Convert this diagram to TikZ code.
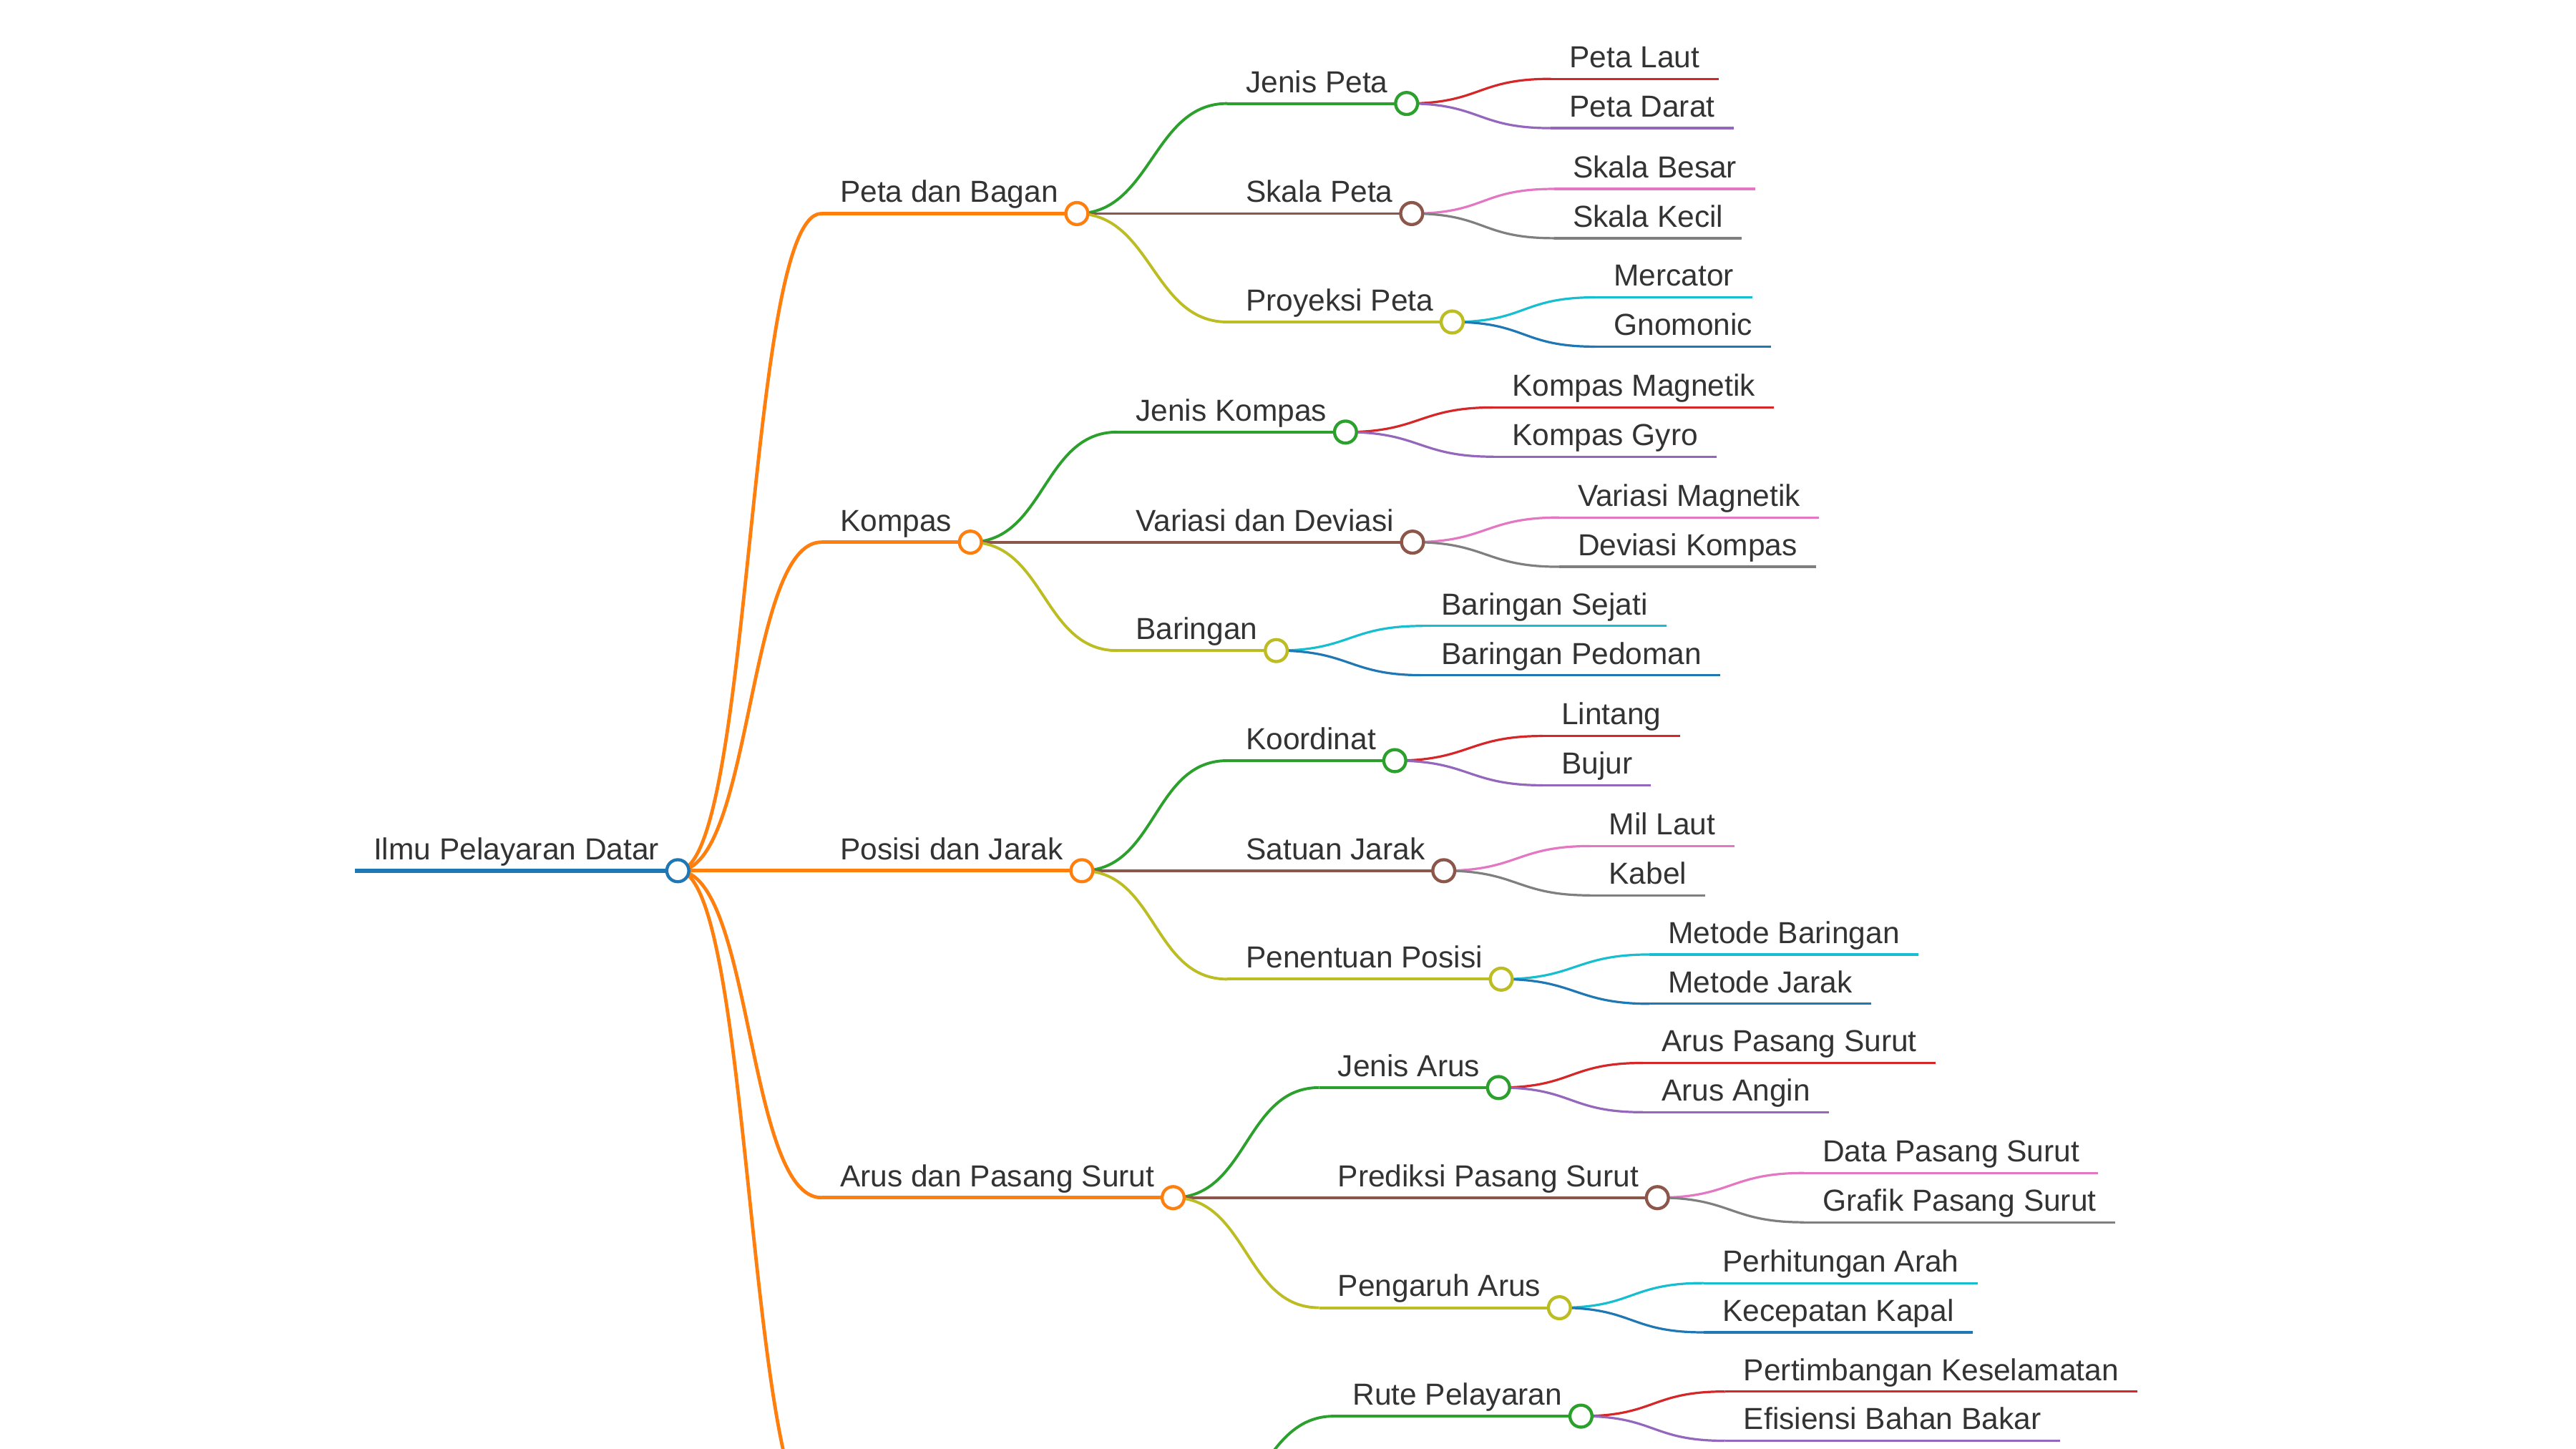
\documentclass[tikz,border=0pt]{standalone}
\usepackage{fontspec}
\setmainfont{Liberation Sans}
\usepackage{xcolor}
\usepackage{tikz}
\definecolor{mmblue}{HTML}{1F77B4}
\definecolor{mmorange}{HTML}{FF7F0E}
\definecolor{mmgreen}{HTML}{2CA02C}
\definecolor{mmred}{HTML}{D62728}
\definecolor{mmpurple}{HTML}{9467BD}
\definecolor{mmbrown}{HTML}{8C564B}
\definecolor{mmpink}{HTML}{E377C2}
\definecolor{mmgray}{HTML}{7F7F7F}
\definecolor{mmolive}{HTML}{BCBD22}
\definecolor{mmcyan}{HTML}{17BECF}
\definecolor{mmtext}{HTML}{333333}

\begin{document}
\begin{tikzpicture}[x=0.5pt,y=-0.5pt,
    lbl/.style={anchor=south west,inner xsep=5.5pt,inner ysep=3.2pt,text depth=0pt,text=mmtext,font=\fontsize{9.25pt}{11pt}\selectfont},
    l0/.style={line width=1.4pt},
    l1/.style={line width=1.05pt},
    l2/.style={line width=0.85pt},
    l3/.style={line width=0.7pt},
    knob/.style={line width=0.95pt,fill=white}]
            \useasboundingbox (0,0) rectangle (1568,882);
            \clip (0,0) rectangle (1568,882);
            \node[lbl] (root) at (216,530) {Ilmu Pelayaran Datar};
            \node[lbl] (pb) at (500,130) {Peta dan Bagan};
            \node[lbl] (ko) at (500,330) {Kompas};
            \node[lbl] (pj) at (500,530) {Posisi dan Jarak};
            \node[lbl] (ap) at (500,729) {Arus dan Pasang Surut};
            \coordinate (rl) at (500,929);
            \coordinate (rr) at (721,929);
            \node[lbl] (jp) at (747,63) {Jenis Peta};
            \node[lbl] (sp) at (747,130) {Skala Peta};
            \node[lbl] (pp) at (747,196) {Proyeksi Peta};
            \node[lbl] (jk) at (680,263) {Jenis Kompas};
            \node[lbl] (vd) at (680,330) {Variasi dan Deviasi};
            \node[lbl] (bg) at (680,396) {Baringan};
            \node[lbl] (kd) at (747,463) {Koordinat};
            \node[lbl] (sj) at (747,530) {Satuan Jarak};
            \node[lbl] (ps) at (747,596) {Penentuan Posisi};
            \node[lbl] (ja) at (803,662) {Jenis Arus};
            \node[lbl] (pr) at (803,729) {Prediksi Pasang Surut};
            \node[lbl] (pa) at (803,796) {Pengaruh Arus};
            \node[lbl] (ru) at (812,862) {Rute Pelayaran};
            \node[lbl] (jp1) at (944,48) {Peta Laut};
            \node[lbl] (jp2) at (944,78) {Peta Darat};
            \node[lbl] (sp1) at (946,115) {Skala Besar};
            \node[lbl] (sp2) at (946,145) {Skala Kecil};
            \node[lbl] (pp1) at (971,181) {Mercator};
            \node[lbl] (pp2) at (971,211) {Gnomonic};
            \node[lbl] (jk1) at (909,248) {Kompas Magnetik};
            \node[lbl] (jk2) at (909,278) {Kompas Gyro};
            \node[lbl] (vd1) at (949,315) {Variasi Magnetik};
            \node[lbl] (vd2) at (949,345) {Deviasi Kompas};
            \node[lbl] (bg1) at (866,381) {Baringan Sejati};
            \node[lbl] (bg2) at (866,411) {Baringan Pedoman};
            \node[lbl] (kd1) at (939,448) {Lintang};
            \node[lbl] (kd2) at (939,478) {Bujur};
            \node[lbl] (sj1) at (968,515) {Mil Laut};
            \node[lbl] (sj2) at (968,545) {Kabel};
            \node[lbl] (ps1) at (1004,581) {Metode Baringan};
            \node[lbl] (ps2) at (1004,611) {Metode Jarak};
            \node[lbl] (ja1) at (1000,647) {Arus Pasang Surut};
            \node[lbl] (ja2) at (1000,677) {Arus Angin};
            \node[lbl] (pr1) at (1098,714) {Data Pasang Surut};
            \node[lbl] (pr2) at (1098,744) {Grafik Pasang Surut};
            \node[lbl] (pa1) at (1037,781) {Perhitungan Arah};
            \node[lbl] (pa2) at (1037,811) {Kecepatan Kapal};
            \node[lbl] (ru1) at (1050,847) {Pertimbangan Keselamatan};
            \node[lbl] (ru2) at (1050,877) {Efisiensi Bahan Bakar};
            \draw[mmorange,l1] (root.south east) .. controls +(45.5,0) and +(-45.5,0) .. (pb.south west);
            \draw[mmorange,l1] (root.south east) .. controls +(45.5,0) and +(-45.5,0) .. (ko.south west);
            \draw[mmorange,l1] (root.south east) .. controls +(45.5,0) and +(-45.5,0) .. (pj.south west);
            \draw[mmorange,l1] (root.south east) .. controls +(45.5,0) and +(-45.5,0) .. (ap.south west);
            \draw[mmorange,l1] (root.south east) .. controls +(45.5,0) and +(-45.5,0) .. (rl);
            \draw[mmgreen,l2] (pb.south east) .. controls +(45.5,0) and +(-45.5,0) .. (jp.south west);
            \draw[mmbrown,l2] (pb.south east) .. controls +(45.5,0) and +(-45.5,0) .. (sp.south west);
            \draw[mmolive,l2] (pb.south east) .. controls +(45.5,0) and +(-45.5,0) .. (pp.south west);
            \draw[mmgreen,l2] (ko.south east) .. controls +(45.5,0) and +(-45.5,0) .. (jk.south west);
            \draw[mmbrown,l2] (ko.south east) .. controls +(45.5,0) and +(-45.5,0) .. (vd.south west);
            \draw[mmolive,l2] (ko.south east) .. controls +(45.5,0) and +(-45.5,0) .. (bg.south west);
            \draw[mmgreen,l2] (pj.south east) .. controls +(45.5,0) and +(-45.5,0) .. (kd.south west);
            \draw[mmbrown,l2] (pj.south east) .. controls +(45.5,0) and +(-45.5,0) .. (sj.south west);
            \draw[mmolive,l2] (pj.south east) .. controls +(45.5,0) and +(-45.5,0) .. (ps.south west);
            \draw[mmgreen,l2] (ap.south east) .. controls +(45.5,0) and +(-45.5,0) .. (ja.south west);
            \draw[mmbrown,l2] (ap.south east) .. controls +(45.5,0) and +(-45.5,0) .. (pr.south west);
            \draw[mmolive,l2] (ap.south east) .. controls +(45.5,0) and +(-45.5,0) .. (pa.south west);
            \draw[mmgreen,l2] (rr) .. controls +(45.5,0) and +(-45.5,0) .. (ru.south west);
            \draw[mmred,l3] (jp.south east) .. controls +(45.5,0) and +(-45.5,0) .. (jp1.south west);
            \draw[mmpurple,l3] (jp.south east) .. controls +(45.5,0) and +(-45.5,0) .. (jp2.south west);
            \draw[mmpink,l3] (sp.south east) .. controls +(45.5,0) and +(-45.5,0) .. (sp1.south west);
            \draw[mmgray,l3] (sp.south east) .. controls +(45.5,0) and +(-45.5,0) .. (sp2.south west);
            \draw[mmcyan,l3] (pp.south east) .. controls +(45.5,0) and +(-45.5,0) .. (pp1.south west);
            \draw[mmblue,l3] (pp.south east) .. controls +(45.5,0) and +(-45.5,0) .. (pp2.south west);
            \draw[mmred,l3] (jk.south east) .. controls +(45.5,0) and +(-45.5,0) .. (jk1.south west);
            \draw[mmpurple,l3] (jk.south east) .. controls +(45.5,0) and +(-45.5,0) .. (jk2.south west);
            \draw[mmpink,l3] (vd.south east) .. controls +(45.5,0) and +(-45.5,0) .. (vd1.south west);
            \draw[mmgray,l3] (vd.south east) .. controls +(45.5,0) and +(-45.5,0) .. (vd2.south west);
            \draw[mmcyan,l3] (bg.south east) .. controls +(45.5,0) and +(-45.5,0) .. (bg1.south west);
            \draw[mmblue,l3] (bg.south east) .. controls +(45.5,0) and +(-45.5,0) .. (bg2.south west);
            \draw[mmred,l3] (kd.south east) .. controls +(45.5,0) and +(-45.5,0) .. (kd1.south west);
            \draw[mmpurple,l3] (kd.south east) .. controls +(45.5,0) and +(-45.5,0) .. (kd2.south west);
            \draw[mmpink,l3] (sj.south east) .. controls +(45.5,0) and +(-45.5,0) .. (sj1.south west);
            \draw[mmgray,l3] (sj.south east) .. controls +(45.5,0) and +(-45.5,0) .. (sj2.south west);
            \draw[mmcyan,l3] (ps.south east) .. controls +(45.5,0) and +(-45.5,0) .. (ps1.south west);
            \draw[mmblue,l3] (ps.south east) .. controls +(45.5,0) and +(-45.5,0) .. (ps2.south west);
            \draw[mmred,l3] (ja.south east) .. controls +(45.5,0) and +(-45.5,0) .. (ja1.south west);
            \draw[mmpurple,l3] (ja.south east) .. controls +(45.5,0) and +(-45.5,0) .. (ja2.south west);
            \draw[mmpink,l3] (pr.south east) .. controls +(45.5,0) and +(-45.5,0) .. (pr1.south west);
            \draw[mmgray,l3] (pr.south east) .. controls +(45.5,0) and +(-45.5,0) .. (pr2.south west);
            \draw[mmcyan,l3] (pa.south east) .. controls +(45.5,0) and +(-45.5,0) .. (pa1.south west);
            \draw[mmblue,l3] (pa.south east) .. controls +(45.5,0) and +(-45.5,0) .. (pa2.south west);
            \draw[mmred,l3] (ru.south east) .. controls +(45.5,0) and +(-45.5,0) .. (ru1.south west);
            \draw[mmpurple,l3] (ru.south east) .. controls +(45.5,0) and +(-45.5,0) .. (ru2.south west);
            \draw[mmblue,l0] (root.south west) -- (root.south east);
            \draw[mmorange,l1] (pb.south west) -- (pb.south east);
            \draw[mmorange,l1] (ko.south west) -- (ko.south east);
            \draw[mmorange,l1] (pj.south west) -- (pj.south east);
            \draw[mmorange,l1] (ap.south west) -- (ap.south east);
            \draw[mmorange,l1] (rl) -- (rr);
            \draw[mmgreen,l2] (jp.south west) -- (jp.south east);
            \draw[mmbrown,l2] (sp.south west) -- (sp.south east);
            \draw[mmolive,l2] (pp.south west) -- (pp.south east);
            \draw[mmgreen,l2] (jk.south west) -- (jk.south east);
            \draw[mmbrown,l2] (vd.south west) -- (vd.south east);
            \draw[mmolive,l2] (bg.south west) -- (bg.south east);
            \draw[mmgreen,l2] (kd.south west) -- (kd.south east);
            \draw[mmbrown,l2] (sj.south west) -- (sj.south east);
            \draw[mmolive,l2] (ps.south west) -- (ps.south east);
            \draw[mmgreen,l2] (ja.south west) -- (ja.south east);
            \draw[mmbrown,l2] (pr.south west) -- (pr.south east);
            \draw[mmolive,l2] (pa.south west) -- (pa.south east);
            \draw[mmgreen,l2] (ru.south west) -- (ru.south east);
            \draw[mmred,l3] (jp1.south west) -- (jp1.south east);
            \draw[mmpurple,l3] (jp2.south west) -- (jp2.south east);
            \draw[mmpink,l3] (sp1.south west) -- (sp1.south east);
            \draw[mmgray,l3] (sp2.south west) -- (sp2.south east);
            \draw[mmcyan,l3] (pp1.south west) -- (pp1.south east);
            \draw[mmblue,l3] (pp2.south west) -- (pp2.south east);
            \draw[mmred,l3] (jk1.south west) -- (jk1.south east);
            \draw[mmpurple,l3] (jk2.south west) -- (jk2.south east);
            \draw[mmpink,l3] (vd1.south west) -- (vd1.south east);
            \draw[mmgray,l3] (vd2.south west) -- (vd2.south east);
            \draw[mmcyan,l3] (bg1.south west) -- (bg1.south east);
            \draw[mmblue,l3] (bg2.south west) -- (bg2.south east);
            \draw[mmred,l3] (kd1.south west) -- (kd1.south east);
            \draw[mmpurple,l3] (kd2.south west) -- (kd2.south east);
            \draw[mmpink,l3] (sj1.south west) -- (sj1.south east);
            \draw[mmgray,l3] (sj2.south west) -- (sj2.south east);
            \draw[mmcyan,l3] (ps1.south west) -- (ps1.south east);
            \draw[mmblue,l3] (ps2.south west) -- (ps2.south east);
            \draw[mmred,l3] (ja1.south west) -- (ja1.south east);
            \draw[mmpurple,l3] (ja2.south west) -- (ja2.south east);
            \draw[mmpink,l3] (pr1.south west) -- (pr1.south east);
            \draw[mmgray,l3] (pr2.south west) -- (pr2.south east);
            \draw[mmcyan,l3] (pa1.south west) -- (pa1.south east);
            \draw[mmblue,l3] (pa2.south west) -- (pa2.south east);
            \draw[mmred,l3] (ru1.south west) -- (ru1.south east);
            \draw[mmpurple,l3] (ru2.south west) -- (ru2.south east);
            \draw[mmblue,knob] (root.south east) circle (3.35pt);
            \draw[mmorange,knob] (pb.south east) circle (3.35pt);
            \draw[mmorange,knob] (ko.south east) circle (3.35pt);
            \draw[mmorange,knob] (pj.south east) circle (3.35pt);
            \draw[mmorange,knob] (ap.south east) circle (3.35pt);
            \draw[mmgreen,knob] (jp.south east) circle (3.35pt);
            \draw[mmbrown,knob] (sp.south east) circle (3.35pt);
            \draw[mmolive,knob] (pp.south east) circle (3.35pt);
            \draw[mmgreen,knob] (jk.south east) circle (3.35pt);
            \draw[mmbrown,knob] (vd.south east) circle (3.35pt);
            \draw[mmolive,knob] (bg.south east) circle (3.35pt);
            \draw[mmgreen,knob] (kd.south east) circle (3.35pt);
            \draw[mmbrown,knob] (sj.south east) circle (3.35pt);
            \draw[mmolive,knob] (ps.south east) circle (3.35pt);
            \draw[mmgreen,knob] (ja.south east) circle (3.35pt);
            \draw[mmbrown,knob] (pr.south east) circle (3.35pt);
            \draw[mmolive,knob] (pa.south east) circle (3.35pt);
            \draw[mmgreen,knob] (ru.south east) circle (3.35pt);
\end{tikzpicture}
\end{document}
